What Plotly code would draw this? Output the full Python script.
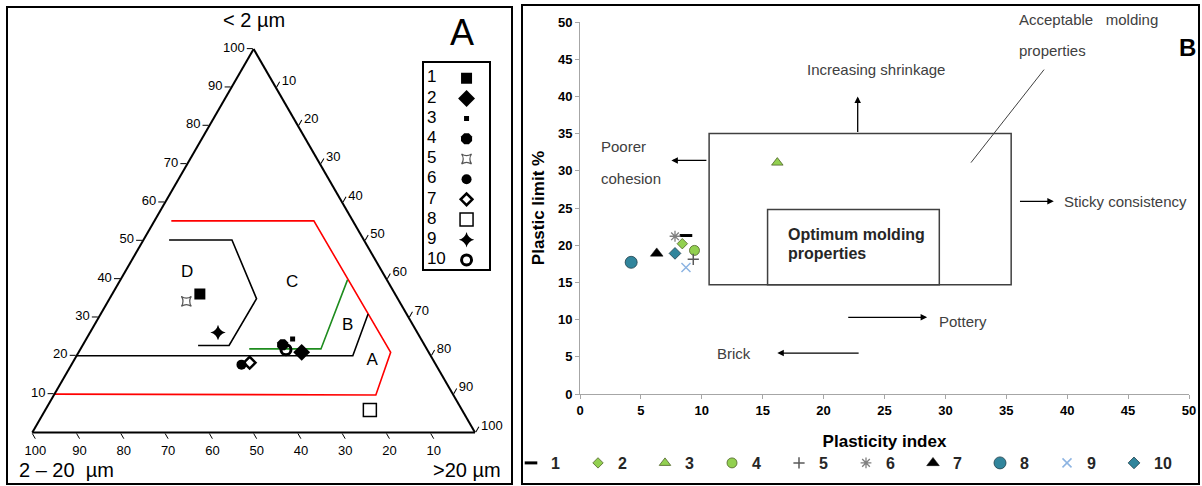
import plotly.graph_objects as go

# ---------------- data ----------------
samples = ['1', '2', '3', '4', '5', '6', '7', '8', '9', '10']

# Panel A: particle-size fractions (%)
clay_lt2 = [36.1, 20.9, 24.4, 22.9, 34.2, 17.7, 18.2, 5.9, 26.1, 21.6]
silt_2_20 = [44.1, 28.7, 29.0, 32.0, 48.1, 43.9, 41.8, 20.8, 45.0, 31.9]
sand_gt20 = [19.8, 50.4, 46.6, 45.1, 17.7, 38.4, 40.0, 73.3, 28.9, 46.5]

# Panel B: Atterberg data
plasticity_index = [8.7, 8.4, 16.2, 9.4, 9.3, 7.8, 6.3, 4.2, 8.7, 7.8]
plastic_limit = [21.3, 20.2, 31.1, 19.3, 18.1, 21.2, 18.9, 17.7, 17.0, 18.9]

# Ternary zone boundaries (clay, silt, sand)
red_clay = [55.2, 55.2, 20.9, 9.8, 10.0]
red_silt = [41.0, 8.8, 8.6, 17.5, 90.0]
red_sand = [3.8, 36.0, 70.5, 72.7, 0.0]

ab_clay = [20.0, 20.0, 30.9]
ab_silt = [80.0, 17.6, 8.7]
ab_sand = [0.0, 62.4, 60.4]

green_clay = [21.8, 21.8, 39.8]
green_silt = [40.1, 23.9, 8.9]
green_sand = [38.1, 54.3, 51.3]

d_clay = [50.2, 50.2, 34.9, 22.7, 22.7]
d_silt = [44.0, 29.8, 31.9, 44.2, 51.2]
d_sand = [5.8, 20.0, 33.2, 33.1, 26.1]

zone_names = ['D', 'C', 'B', 'A']
zone_clay = [41.7, 39.0, 27.9, 18.6]
zone_silt = [44.2, 21.8, 14.8, 13.9]
zone_sand = [14.1, 39.2, 57.3, 67.5]

tern_ticks = [10, 20, 30, 40, 50, 60, 70, 80, 90, 100]
xy_ticks = [0, 5, 10, 15, 20, 25, 30, 35, 40, 45, 50]

# ---------------- styles ----------------
W, H = 1202, 486
ARIAL = 'Liberation Sans, Arial, sans-serif'
NARROW = 'Liberation Sans Narrow, Liberation Sans, Arial, sans-serif'
TXT = '#404040'

symA = ['square', 'diamond', 'square', 'octagon', 'star-square-open', 'circle',
        'diamond-open', 'square-open', 'star-diamond', 'circle-open']
sizeA = [11, 13, 5, 12, 9, 10, 9, 13, 11, 10]
lineA = [0, 0, 0, 0, 1.2, 0, 2.5, 1.5, 0, 3]
colA = ['black'] * 4 + ['#555555'] + ['black'] * 5

symB = ['line-ew-open', 'diamond', 'triangle-up', 'circle', 'cross-thin-open',
        'asterisk-open', 'triangle-up', 'circle', 'x-thin-open', 'diamond']
sizeB = [9, 8, 10, 10, 8, 9, 11, 12, 9, 9]
colB = ['black', '#92D050', '#92D050', '#92D050', '#595959', '#7F7F7F',
        'black', '#31859C', '#8DB4E2', '#31859C']
lineColB = ['black', '#4F6228', '#4F6228', '#4F6228', '#595959', '#7F7F7F',
            'black', '#1F3F4A', '#8DB4E2', '#1F3F4A']
lineWB = [3, 0.8, 0.8, 0.8, 1.5, 1.3, 0.5, 0.8, 1.5, 0.8]


def px(x):
    return x / W


def py(y):
    return 1 - y / H


fig = go.Figure()

# ---------------- Panel A : ternary ----------------
for a, b, c, col, w in [(red_clay, red_silt, red_sand, '#FF0000', 1.6),
                        (ab_clay, ab_silt, ab_sand, 'black', 1.6),
                        (green_clay, green_silt, green_sand, '#1E8C1E', 1.6),
                        (d_clay, d_silt, d_sand, 'black', 1.6)]:
    fig.add_trace(go.Scatterternary(a=a, b=b, c=c, mode='lines',
                                    line=dict(color=col, width=w),
                                    showlegend=False, hoverinfo='skip'))

fig.add_trace(go.Scatterternary(a=zone_clay, b=zone_silt, c=zone_sand, mode='text',
                                text=zone_names,
                                textfont=dict(family=ARIAL, size=17, color='black'),
                                showlegend=False, hoverinfo='skip'))

for i, s in enumerate(samples):
    fig.add_trace(go.Scatterternary(
        a=[clay_lt2[i]], b=[silt_2_20[i]], c=[sand_gt20[i]], mode='markers',
        marker=dict(symbol=symA[i], size=sizeA[i], color=colA[i],
                    line=dict(color=colA[i], width=lineA[i])),
        name=s, showlegend=False))

# manual legend box for panel A
fig.add_trace(go.Scatter(x=[0.04] * len(samples), y=list(range(1, len(samples) + 1)),
                         mode='text', text=samples, textposition='middle right',
                         textfont=dict(family=ARIAL, size=17, color='black'),
                         xaxis='x2', yaxis='y2', showlegend=False, hoverinfo='skip'))
for i, s in enumerate(samples):
    fig.add_trace(go.Scatter(x=[0.65], y=[i + 1], mode='markers',
                             marker=dict(symbol=symA[i], size=sizeA[i], color=colA[i],
                                         line=dict(color=colA[i], width=lineA[i])),
                             xaxis='x2', yaxis='y2', showlegend=False, hoverinfo='skip'))

# ---------------- Panel B : scatter ----------------
for i, s in enumerate(samples):
    fig.add_trace(go.Scatter(
        x=[plasticity_index[i]], y=[plastic_limit[i]], mode='markers', name=s,
        marker=dict(symbol=symB[i], size=sizeB[i], color=colB[i],
                    line=dict(color=lineColB[i], width=lineWB[i])),
        xaxis='x', yaxis='y'))

tern_axis = dict(tickvals=tern_ticks, ticks='outside', ticklen=6, tickcolor='black',
                 tickfont=dict(family=ARIAL, size=13, color='black'),
                 showgrid=False, linecolor='black', linewidth=2, title=dict(text=''))

axB = dict(range=[0, 50], tickvals=xy_ticks, showline=True, linecolor='#A6A6A6',
           linewidth=1, ticks='outside', ticklen=4, tickcolor='#A6A6A6',
           showgrid=False, zeroline=False, automargin=False,
           tickfont=dict(family=NARROW, size=13, color='black', weight='bold'))

fig.update_layout(
    width=W, height=H, margin=dict(l=0, r=0, t=0, b=0, autoexpand=False),
    paper_bgcolor='white', plot_bgcolor='white',
    ternary=dict(sum=100, bgcolor='white',
                 domain=dict(x=[px(32.3), px(475)], y=[py(433.3), py(48.3)]),
                 aaxis=tern_axis, baxis=tern_axis, caxis=tern_axis),
    xaxis=dict(axB, domain=[px(580), px(1189)], anchor='y',
               title=dict(text='Plasticity index', standoff=18,
                          font=dict(family=NARROW, size=17, color='black', weight='bold'))),
    yaxis=dict(axB, domain=[py(394), py(22)], anchor='x',
               title=dict(text='Plastic limit %', standoff=8,
                          font=dict(family=NARROW, size=17, color='black', weight='bold'))),
    xaxis2=dict(domain=[px(424.3), px(489.3)], range=[0, 1], anchor='y2',
                showline=True, mirror=True, linecolor='black', linewidth=2,
                showticklabels=False, ticks='', showgrid=False, zeroline=False),
    yaxis2=dict(domain=[py(269), py(62.7)], range=[10.45, 0.23], anchor='x2',
                showline=True, mirror=True, linecolor='black', linewidth=2,
                showticklabels=False, ticks='', showgrid=False, zeroline=False),
    legend=dict(orientation='h', x=px(511), y=py(463), xanchor='left', yanchor='middle',
                font=dict(family=NARROW, size=16, color='#262626', weight='bold'),
                itemwidth=30, entrywidth=22, bgcolor='rgba(0,0,0,0)',
                traceorder='normal'),
    showlegend=True,
)

# panel frames
fig.add_shape(type='rect', xref='paper', yref='paper', x0=px(7), x1=px(512),
              y0=py(484), y1=py(7), line=dict(color='black', width=2))
fig.add_shape(type='rect', xref='paper', yref='paper', x0=px(522), x1=px(1199),
              y0=py(484), y1=py(5), line=dict(color='black', width=2))

# panel A titles
for txt, x, y, sz in [('&lt; 2 µm', 254, 20, 20), ('2 – 20  µm', 66, 470, 20),
                      ('&gt;20 µm', 467, 470, 20), ('A', 462, 32, 36)]:
    fig.add_annotation(text=txt, x=px(x), y=py(y), xref='paper', yref='paper',
                       showarrow=False, xanchor='center', yanchor='middle',
                       font=dict(family=ARIAL, size=sz, color='black'))

# panel B rectangles and lines
fig.add_shape(type='rect', xref='x', yref='y', x0=10.6, x1=35.4, y0=14.7, y1=35.0,
              line=dict(color='#404040', width=1.5))
fig.add_shape(type='rect', xref='x', yref='y', x0=15.4, x1=29.5, y0=14.7, y1=24.8,
              line=dict(color='#404040', width=1.5))
fig.add_shape(type='line', xref='x', yref='y', x0=38.1, y0=43.6, x1=32.1, y1=31.1,
              line=dict(color='#404040', width=1))

# arrows
for (x0, y0, x1, y1) in [(22.8, 35.0, 22.8, 40.0), (10.5, 31.4, 7.5, 31.4),
                         (36.0, 25.9, 38.9, 25.9), (21.9, 10.3, 28.5, 10.3),
                         (23.0, 5.5, 16.2, 5.5)]:
    fig.add_annotation(x=x1, y=y1, ax=x0, ay=y0, xref='x', yref='y', axref='x', ayref='y',
                       showarrow=True, arrowhead=2, arrowsize=1, arrowwidth=1.3,
                       arrowcolor='black', text='')

# panel B texts (y given in axis units; written in domain fraction so text above 50 shows)
for txt, x, y, bold, sz in [('Increasing shrinkage', 18.5, 43.6, False, 15),
                            ('Acceptable\u00a0\u00a0\u00a0molding', 35.9, 50.4, False, 15),
                            ('properties', 35.9, 46.2, False, 15),
                            ('Poorer', 1.6, 33.2, False, 15),
                            ('cohesion', 1.6, 29.0, False, 15),
                            ('Sticky consistency', 39.6, 25.9, False, 15),
                            ('Optimum molding', 16.9, 21.4, True, 16),
                            ('properties', 16.9, 18.9, True, 16),
                            ('Pottery', 29.3, 9.8, False, 15),
                            ('Brick', 11.1, 5.5, False, 15)]:
    fig.add_annotation(text=txt, x=x, y=y / 50.0, xref='x', yref='y domain',
                       showarrow=False, xanchor='left', yanchor='middle',
                       font=dict(family=NARROW, size=sz, color='#262626' if bold else TXT,
                                 weight='bold' if bold else 'normal'))

fig.add_annotation(text='B', x=px(1187), y=py(47), xref='paper', yref='paper',
                   showarrow=False, xanchor='center', yanchor='middle',
                   font=dict(family=NARROW, size=24, color='black', weight='bold'))

# remove the browser's default 8px body margin so the figure fills the window
fig.write_html('out.html', config={'displayModeBar': False},
               post_script="document.body.style.margin='0px';")
